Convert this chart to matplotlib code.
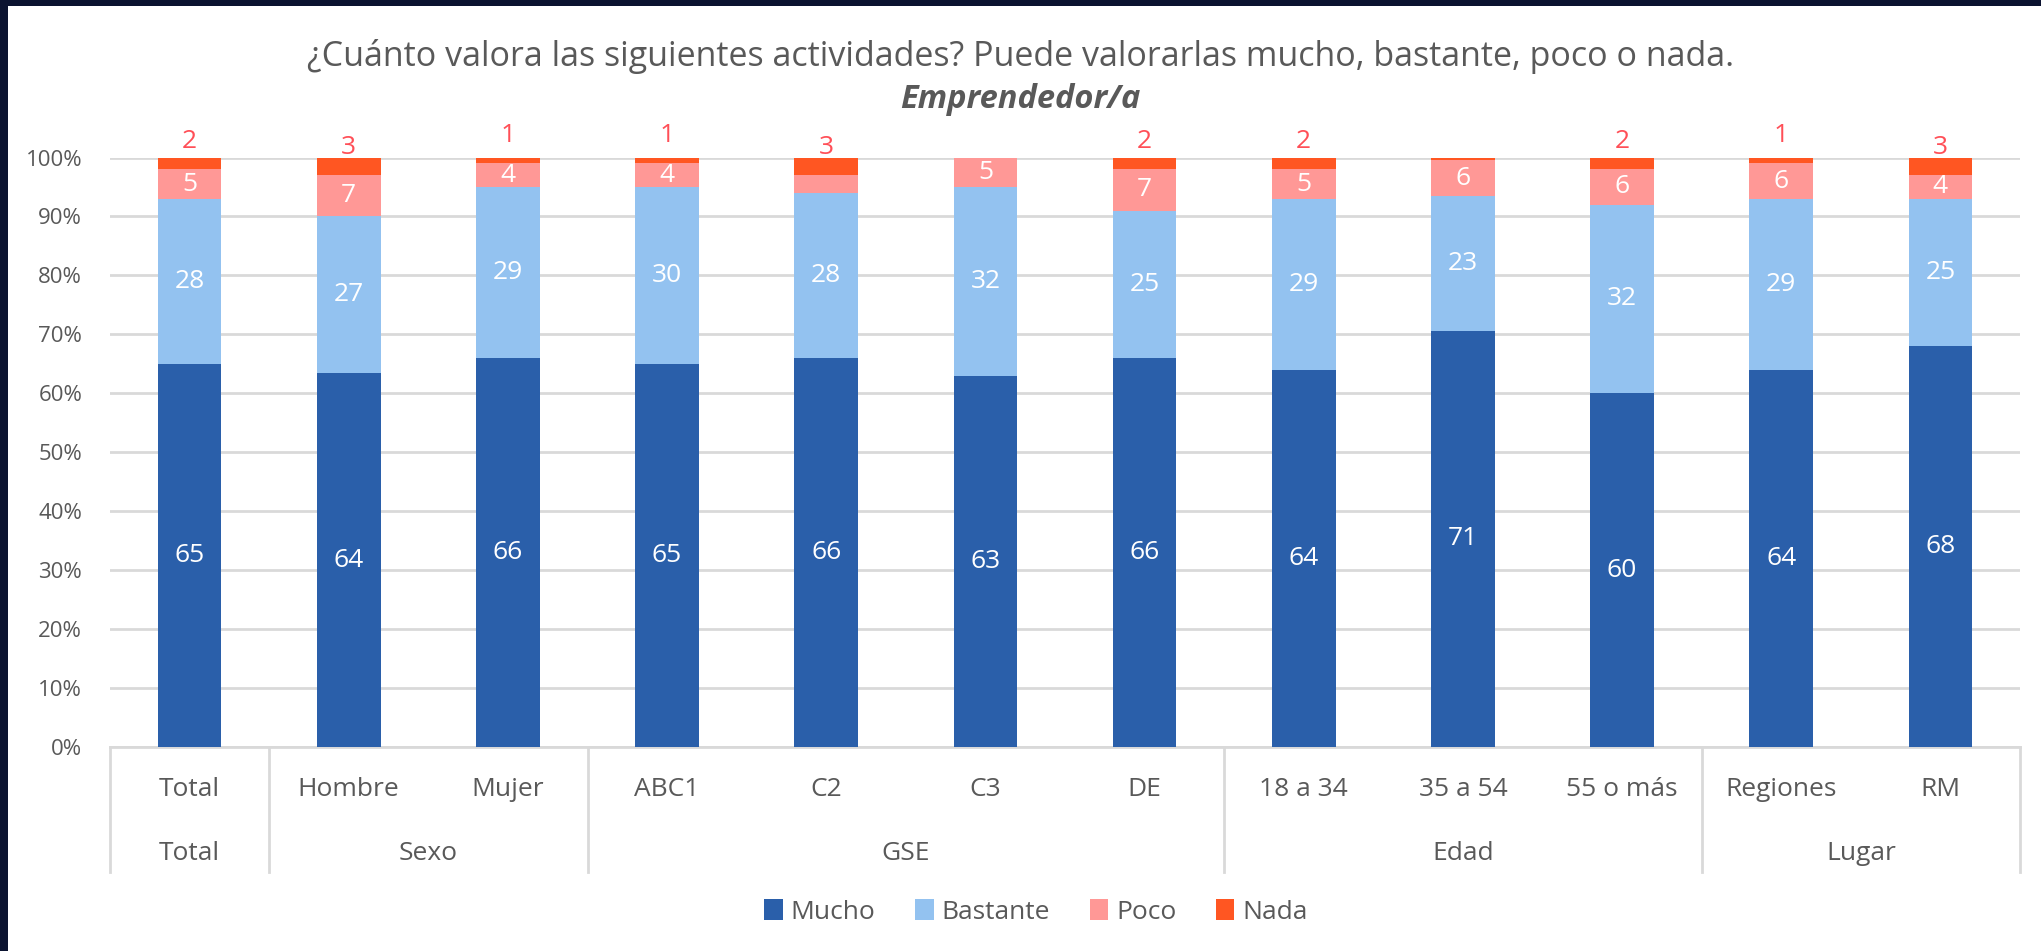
import matplotlib
matplotlib.use("Agg")
import matplotlib.pyplot as plt
from matplotlib.patches import Patch, Rectangle
from matplotlib.transforms import blended_transform_factory
import numpy as np

plt.rcParams['font.family'] = ['Open Sans', 'DejaVu Sans']

categories = ["Total", "Hombre", "Mujer", "ABC1", "C2", "C3", "DE",
              "18 a 34", "35 a 54", "55 o más", "Regiones", "RM"]
groups = ["Total", "Sexo", "GSE", "Edad", "Lugar"]
group_sizes = [1, 2, 4, 3, 2]

mucho    = [65, 64, 66, 65, 66, 63, 66, 64, 71, 60, 64, 68]
bastante = [28, 27, 29, 30, 28, 32, 25, 29, 23, 32, 29, 25]
poco     = [5, 7, 4, 4, 3, 5, 7, 5, 6, 6, 6, 4]
nada     = [2, 3, 1, 1, 3, 0, 2, 2, 0.5, 2, 1, 3]

mucho_lbl    = ["65", "64", "66", "65", "66", "63", "66", "64", "71", "60", "64", "68"]
bastante_lbl = ["28", "27", "29", "30", "28", "32", "25", "29", "23", "32", "29", "25"]
poco_lbl     = ["5", "7", "4", "4", "", "5", "7", "5", "6", "6", "6", "4"]
nada_lbl     = ["2", "3", "1", "1", "3", "", "2", "2", "", "2", "1", "3"]

series_names = ["Mucho", "Bastante", "Poco", "Nada"]
colors = ["#2A5FAA", "#93C2F0", "#FF9896", "#FF5622"]
nada_text_color = "#FF4F57"
text_gray = "#595959"
grid_gray = "#D9D9D9"

W, H = 2041, 951
fig = plt.figure(figsize=(W / 100, H / 100), dpi=100, facecolor="white")

# dark frame edges
fig.patches.append(Rectangle((0, 1 - 6 / H), 1, 6 / H, transform=fig.transFigure,
                             facecolor="#0B1330", edgecolor="none", zorder=0))
fig.patches.append(Rectangle((0, 0), 8 / W, 1, transform=fig.transFigure,
                             facecolor="#0B1330", edgecolor="none", zorder=0))

left, right = 110 / W, 2020 / W
bottom = (H - 747) / H
top = (H - 157.5) / H
ax = fig.add_axes([left, bottom, right - left, top - bottom])

data = np.array([mucho, bastante, poco, nada], dtype=float)
totals = data.sum(axis=0)
shares = data / totals * 100
x = np.arange(len(categories))
bw = 0.4
base = np.zeros(len(categories))
labels = [mucho_lbl, bastante_lbl, poco_lbl, nada_lbl]
for i, (name, col) in enumerate(zip(series_names, colors)):
    ax.bar(x, shares[i], bw, bottom=base, color=col, label=name, zorder=3)
    for j in range(len(categories)):
        txt = labels[i][j]
        if not txt:
            continue
        if i < 3:
            ax.text(x[j], base[j] + shares[i][j] / 2, txt, ha="center", va="center",
                    color="white", fontsize=19, zorder=4)
        else:
            ax.annotate(txt, (x[j], base[j]), xytext=(0, 20), textcoords="offset points",
                        ha="center", va="center", color=nada_text_color, fontsize=19,
                        annotation_clip=False)
    base += shares[i]

ax.set_xlim(-0.5, len(categories) - 0.5)
ax.set_ylim(0, 100)
ax.set_yticks(np.arange(0, 101, 10))
ax.set_yticklabels([f"{v}%" for v in range(0, 101, 10)], fontsize=16, color=text_gray)
ax.tick_params(axis="y", length=0, pad=20)
ax.set_xticks([])
ax.yaxis.grid(True, color=grid_gray, linewidth=2, zorder=0)
ax.set_axisbelow(True)
for s in ["top", "right", "left"]:
    ax.spines[s].set_visible(False)
ax.spines["bottom"].set_color(grid_gray)
ax.spines["bottom"].set_linewidth(2)

# multi-level category axis
trans = blended_transform_factory(ax.transData, ax.transAxes)
ax_h = 747 - 157.5
row1 = -(790 - 747) / ax_h
row2 = -(853 - 747) / ax_h
sep_bottom = -(872 - 747) / ax_h
for j, c in enumerate(categories):
    ax.text(x[j], row1, c, transform=trans, ha="center", va="center",
            fontsize=19, color=text_gray)
start = 0
bounds = [-0.5]
for g, n in zip(groups, group_sizes):
    ax.text(start + (n - 1) / 2, row2, g, transform=trans, ha="center", va="center",
            fontsize=19, color=text_gray)
    start += n
    bounds.append(start - 0.5)
for b in bounds:
    ax.plot([b, b], [0, sep_bottom], transform=trans, color=grid_gray, linewidth=2,
            clip_on=False, zorder=1)

# titles
fig.text(0.5, 1 - 57 / H, "¿Cuánto valora las siguientes actividades? Puede valorarlas mucho, bastante, poco o nada.",
         ha="center", va="center", fontsize=24.5, color=text_gray)
fig.text(0.5, 1 - 99 / H, "Emprendedor/a", ha="center", va="center", fontsize=23.5,
         color=text_gray, fontweight="bold", fontstyle="italic")

handles = [Patch(facecolor=c, edgecolor="none") for c in colors]
fig.legend(handles, series_names, loc="center", bbox_to_anchor=(1036 / W, 1 - 912 / H),
           ncol=4, frameon=False, fontsize=19, handlelength=0.7, handleheight=0.8,
           handletextpad=0.3, columnspacing=1.5, labelcolor=text_gray)

fig.savefig("out.png", dpi=100, facecolor="white")
